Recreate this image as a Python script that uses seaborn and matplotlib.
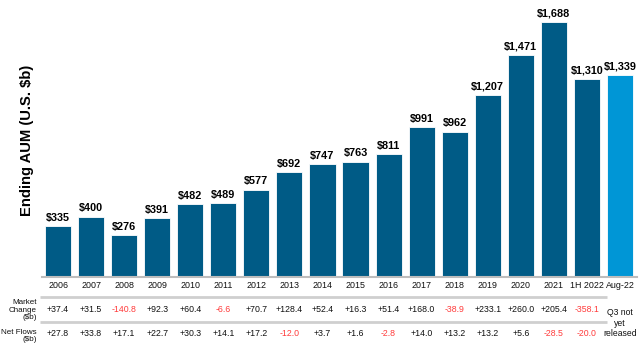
import matplotlib
matplotlib.use("Agg")
import matplotlib.pyplot as plt
import matplotlib.transforms as mtransforms
import seaborn as sns
import pandas as pd

periods = ["2006", "2007", "2008", "2009", "2010", "2011", "2012", "2013", "2014",
           "2015", "2016", "2017", "2018", "2019", "2020", "2021", "1H 2022", "Aug-22"]
ending_aum = [335, 400, 276, 391, 482, 489, 577, 692, 747,
              763, 811, 991, 962, 1207, 1471, 1688, 1310, 1339]
market_change = [37.4, 31.5, -140.8, 92.3, 60.4, -6.6, 70.7, 128.4, 52.4,
                 16.3, 51.4, 168.0, -38.9, 233.1, 260.0, 205.4, -358.1]
net_flows = [27.8, 33.8, 17.1, 22.7, 30.3, 14.1, 17.2, -12.0, 3.7,
             1.6, -2.8, 14.0, 13.2, 13.2, 5.6, -28.5, -20.0]

DARK = "#005b86"
LIGHT = "#0096d6"
RED = "#ff3b3b"
GRID = "#cfcfcf"

W, H = 640, 344
sns.set_theme(style="white")
plt.rcParams["font.family"] = ["Liberation Sans", "DejaVu Sans"]

fig = plt.figure(figsize=(W / 100, H / 100), dpi=100)
ax = fig.add_axes([41.5 / W, 67 / H, 595 / W, 272 / H])

df = pd.DataFrame({"period": periods, "aum": ending_aum})
colors = [DARK] * (len(periods) - 1) + [LIGHT]
sns.barplot(data=df, x="period", y="aum", hue="period", palette=colors,
            legend=False, width=0.79, saturation=1, ax=ax,
            edgecolor="white", linewidth=0.6)

ax.set_xlim(-0.5, len(periods) - 0.5)
ax.set_ylim(0, 1800)
ax.set_yticks([])
ax.set_xticks([])
ax.set_xlabel("")
ax.set_ylabel("")
for s in ["top", "right", "left"]:
    ax.spines[s].set_visible(False)
ax.spines["bottom"].set_color("#bdbdbd")
ax.spines["bottom"].set_linewidth(1.5)

# value labels above each bar
for i, v in enumerate(ending_aum):
    ax.text(i, v + 22, f"${v:,}", ha="center", va="bottom",
            fontsize=7.8, fontweight="bold", color="black")

fig.text(27 / W, 1 - 140 / H, "Ending AUM (U.S. $b)", rotation=90,
         ha="center", va="center", fontsize=10.6, fontweight="bold", color="black")

# table below the chart: x in data units, y in figure fraction
tr = mtransforms.blended_transform_factory(ax.transData, fig.transFigure)

def fy(py):
    return 1 - py / H

for i, p in enumerate(periods):
    ax.text(i, fy(286), p, transform=tr, ha="center", va="center",
            fontsize=6.4, color="#111111")

for py in (297, 322):
    ax.plot([-0.55, 16.6], [fy(py), fy(py)], transform=tr, color=GRID,
            linewidth=2.0, clip_on=False, solid_capstyle="butt")

def fmt(v):
    return f"{v:+.1f}"

for i, v in enumerate(market_change):
    ax.text(i, fy(310), fmt(v), transform=tr, ha="center", va="center",
            fontsize=6.3, color=RED if v < 0 else "#111111")
for i, v in enumerate(net_flows):
    ax.text(i, fy(334), fmt(v), transform=tr, ha="center", va="center",
            fontsize=6.3, color=RED if v < 0 else "#111111")

fig.text(37 / W, fy(310), "Market\nChange\n($b)", ha="right", va="center",
         fontsize=5.8, color="#111111", linespacing=1.1)
fig.text(37 / W, fy(336), "Net Flows\n($b)", ha="right", va="center",
         fontsize=5.8, color="#111111", linespacing=1.05)

ax.text(len(periods) - 1, fy(323), "Q3 not\nyet\nreleased", transform=tr,
        ha="center", va="center", fontsize=6.2, color="#111111", linespacing=1.15)

fig.savefig("out.png", dpi=100, facecolor="white")
